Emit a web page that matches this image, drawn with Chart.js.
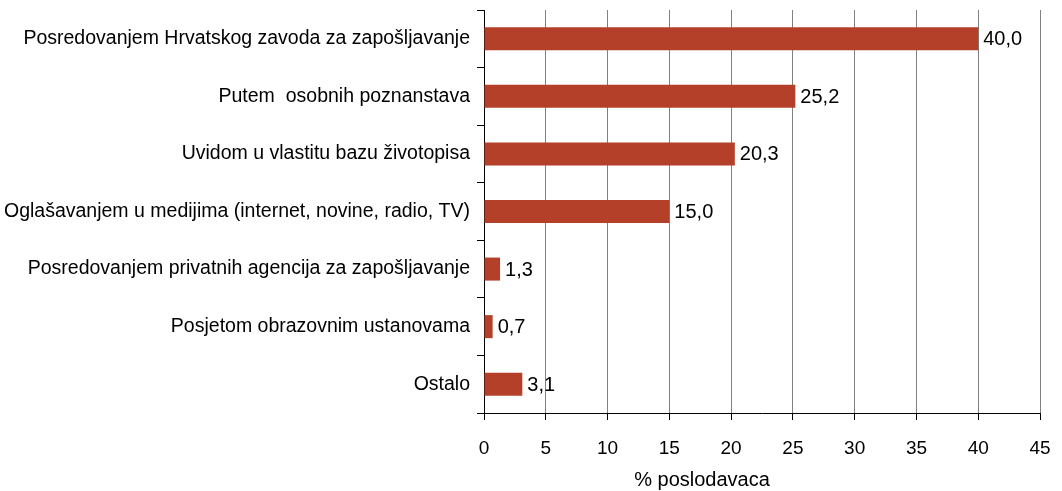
<!DOCTYPE html>
<html>
<head>
<meta charset="utf-8">
<script src="https://cdn.jsdelivr.net/npm/chart.js@4"></script>
<style>
html,body{margin:0;padding:0;background:#fff;}
#wrap{width:1062px;height:491px;position:relative;}
</style>
</head>
<body>
<div id="wrap"><canvas id="c" width="1062" height="491"></canvas></div>
<script>
const categories = [
  "Posredovanjem Hrvatskog zavoda za zapošljavanje",
  "Putem  osobnih poznanstava",
  "Uvidom u vlastitu bazu životopisa",
  "Oglašavanjem u medijima (internet, novine, radio, TV)",
  "Posredovanjem privatnih agencija za zapošljavanje",
  "Posjetom obrazovnim ustanovama",
  "Ostalo"
];
const values = [40.0, 25.2, 20.3, 15.0, 1.3, 0.7, 3.1];
const valueLabels = ["40,0", "25,2", "20,3", "15,0", "1,3", "0,7", "3,1"];
const xTicks = [0, 5, 10, 15, 20, 25, 30, 35, 40, 45];
const axisTitle = "% poslodavaca";

const FONT = "'Liberation Sans', Arial, sans-serif";

const valueLabelPlugin = {
  id: 'valueLabels',
  afterDatasetsDraw(chart) {
    const ctx = chart.ctx;
    const meta = chart.getDatasetMeta(0);
    ctx.save();
    ctx.font = "20px " + FONT;
    ctx.fillStyle = "#000";
    ctx.textAlign = "left";
    ctx.textBaseline = "middle";
    meta.data.forEach((bar, i) => {
      ctx.fillText(valueLabels[i], bar.x + 5, bar.y + 1);
    });
    ctx.restore();
  }
};

const axisTitlePlugin = {
  id: 'axisTitle',
  afterDraw(chart) {
    const ctx = chart.ctx;
    ctx.save();
    ctx.font = "20px " + FONT;
    ctx.fillStyle = "#000";
    ctx.textAlign = "center";
    ctx.textBaseline = "middle";
    ctx.fillText(axisTitle, 702, 480);
    ctx.restore();
  }
};

new Chart(document.getElementById('c'), {
  type: 'bar',
  data: {
    labels: categories,
    datasets: [{
      data: values,
      backgroundColor: '#B5402A',
      borderWidth: 0,
      categoryPercentage: 1.0,
      barPercentage: 0.4
    }]
  },
  options: {
    indexAxis: 'y',
    responsive: false,
    animation: false,
    layout: { padding: { top: 10, right: 22, left: 0, bottom: 0 } },
    plugins: { legend: { display: false }, tooltip: { enabled: false } },
    scales: {
      x: {
        type: 'linear',
        min: 0,
        max: 45,
        afterBuildTicks(scale) { scale.ticks = xTicks.map(v => ({ value: v })); },
        afterFit(scale) {
          scale.height = 78;
          scale.paddingLeft = 0;
          scale.paddingRight = 0;
        },
        grid: {
          color: (c) => (c.tick && c.tick.value === 0) ? '#000' : '#808080',
          tickColor: '#000',
          tickLength: 7,
          lineWidth: 1
        },
        border: { color: '#000', width: 1 },
        ticks: {
          color: '#000',
          font: { family: FONT, size: 19 },
          padding: 17,
          maxRotation: 0
        }
      },
      y: {
        afterFit(scale) {
          scale.width = 484;
          scale.paddingTop = 0;
          scale.paddingBottom = 0;
        },
        grid: {
          offset: true,
          drawOnChartArea: false,
          drawTicks: true,
          tickLength: 7,
          tickColor: '#000',
          color: '#000'
        },
        border: { color: '#000', width: 1 },
        ticks: {
          color: '#000',
          font: { family: FONT, size: 19.5 },
          padding: 7,
          autoSkip: false
        }
      }
    }
  },
  plugins: [valueLabelPlugin, axisTitlePlugin]
});
</script>
</body>
</html>
